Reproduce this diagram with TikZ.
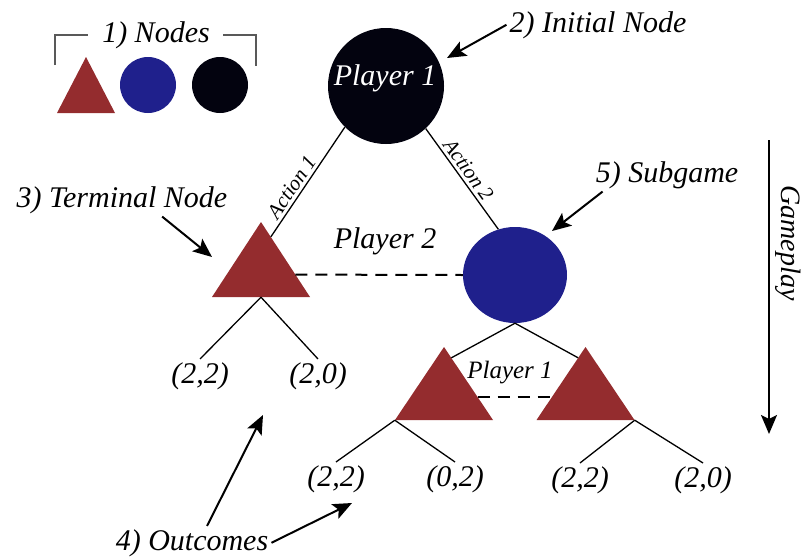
\documentclass[tikz,border=0pt]{standalone}
\usepackage{fontspec}
\setmainfont{Liberation Serif}
\usetikzlibrary{shapes.geometric,arrows.meta,calc}
\definecolor{termred}{RGB}{148,44,46}
\definecolor{subblue}{RGB}{31,32,140}
\definecolor{rootblack}{RGB}{3,3,15}

\begin{document}
\begin{tikzpicture}[x=1pt, y=-1pt,
  lbl/.style={font=\fontsize{30}{36}\selectfont\itshape, inner sep=3pt},
  small/.style={font=\fontsize{25}{30}\selectfont\itshape, inner sep=2pt},
  act/.style={font=\fontsize{21}{25}\selectfont\itshape, inner sep=3pt},
  outcome/.style={font=\fontsize{30}{36}\selectfont\itshape, inner sep=3pt, anchor=base},
  decision/.style={circle, fill=rootblack, minimum size=116pt, inner sep=0},
  chance/.style={ellipse, fill=subblue, minimum width=104pt, minimum height=96pt, inner sep=0},
  terminal/.style={rectangle, inner sep=0, minimum width=98pt, minimum height=73pt,
    path picture={\fill[termred] (path picture bounding box.north)
      -- (path picture bounding box.south east)
      -- (path picture bounding box.south west) -- cycle;}},
  edge/.style={line width=1.3pt},
  info/.style={line width=2pt, dash pattern=on 12pt off 8pt},
  pointer/.style={line width=2pt, -{Stealth[length=19pt, width=16pt, inset=4pt]}},
  bracket/.style={line width=2pt, draw=black!65}]
  \useasboundingbox (0,0) rectangle (808,557);

  % legend
  \node[lbl, anchor=base] (lbl1) at (156,42) {1) Nodes};
  \draw[bracket] (55,65) -- (55,35) -- (88,35);
  \draw[bracket] (223,35) -- (256,35) -- (256,66);
  \node[terminal, minimum width=58pt, minimum height=56pt] (legt) at (86,85) {};
  \node[circle, fill=subblue, minimum size=56pt, inner sep=0] (legc) at (148,85) {};
  \node[decision, minimum size=56pt] (legd) at (220,85) {};

  % tree
  \node[decision] (p1) at (386,86) {};
  \node[lbl, text=white, anchor=base] (p1name) at (385,85) {Player 1};
  \node[terminal, minimum height=75pt] (t1) at (261,259.5) {};
  \node[chance] (sub) at (515,275) {};
  \node[terminal] (t2) at (444,383.5) {};
  \node[terminal] (t3) at (585.5,383.5) {};
  \node[lbl, anchor=base] (p2name) at (385,248) {Player 2};
  \node[small, anchor=base] (p1low) at (510,378) {Player 1};

  \coordinate (t1in) at ($(t1.north)!0.2!(t1.south east)$);
  \coordinate (t1dash) at ($(t1.north)!0.7!(t1.south east)$);
  \coordinate (t2in) at ($(t2.north)!0.15!(t2.south east)$);
  \coordinate (t3in) at ($(t3.north)!0.15!(t3.south west)$);
  \coordinate (t2dash) at ($(t2.north)!0.685!(t2.south east)$);
  \coordinate (t3dash) at ($(t3.north)!0.685!(t3.south west)$);

  \draw[edge] (p1.-135) -- node[act, sloped, above, pos=0.6] (act1) {Action 1} (t1in);
  \draw[edge] (p1.-47) -- node[act, sloped, above, pos=0.47] (act2) {Action 2} (sub.110);
  \draw[edge] (sub.south) -- (t2in);
  \draw[edge] (sub.south) -- (t3in);
  \draw[info] (t1dash) -- (sub.west);
  \draw[info] (t2dash) -- (t3dash);

  % outcomes
  \node[outcome] (o1) at (200,383) {(2,2)};
  \node[outcome] (o2) at (318,383) {(2,0)};
  \node[outcome] (o3) at (336,486) {(2,2)};
  \node[outcome] (o4) at (455,486) {(0,2)};
  \node[outcome] (o5) at (580,487) {(2,2)};
  \node[outcome] (o6) at (703,487) {(2,0)};
  \draw[edge] (t1.south) -- (o1.north);
  \draw[edge] (t1.south) -- (o2.north);
  \draw[edge] (t2.south west) -- (o3.north);
  \draw[edge] (t2.south west) -- (o4.north);
  \draw[edge] (t3.south east) -- (o5.north);
  \draw[edge] (t3.south east) -- (o6.north);

  % annotations
  \node[lbl, anchor=base] (lbl2) at (598,32) {2) Initial Node};
  \node[lbl, anchor=base] (lbl3) at (122,207) {3) Terminal Node};
  \node[lbl, anchor=base] (lbl4) at (192,550) {4) Outcomes};
  \node[lbl, anchor=base] (lbl5) at (667,182) {5) Subgame};
  \coordinate (tipinit) at (447,58);
  \coordinate (tipterm) at (212,257);
  \coordinate (tipout1) at (263,415);
  \coordinate (tipout2) at (352,503);
  \coordinate (tipsub) at (552,231);
  \draw[pointer] (lbl2.west) -- (tipinit);
  \draw[pointer] ($(lbl3.south)!.37!(lbl3.south east)$) -- (tipterm);
  \draw[pointer] ([xshift=15pt]lbl4.north) -- (tipout1);
  \draw[pointer] (lbl4.east) -- (tipout2);
  \draw[pointer] ([xshift=10pt]lbl5.south west) -- (tipsub);

  % gameplay
  \coordinate (gtop) at (769,140);
  \coordinate (gbot) at (769,434);
  \draw[pointer] (gtop) -- node[font=\fontsize{28}{34}\selectfont\itshape, pos=0.35,
    rotate=-90, anchor=south, inner sep=5pt] (gplay) {Gameplay} (gbot);
\end{tikzpicture}
\end{document}
